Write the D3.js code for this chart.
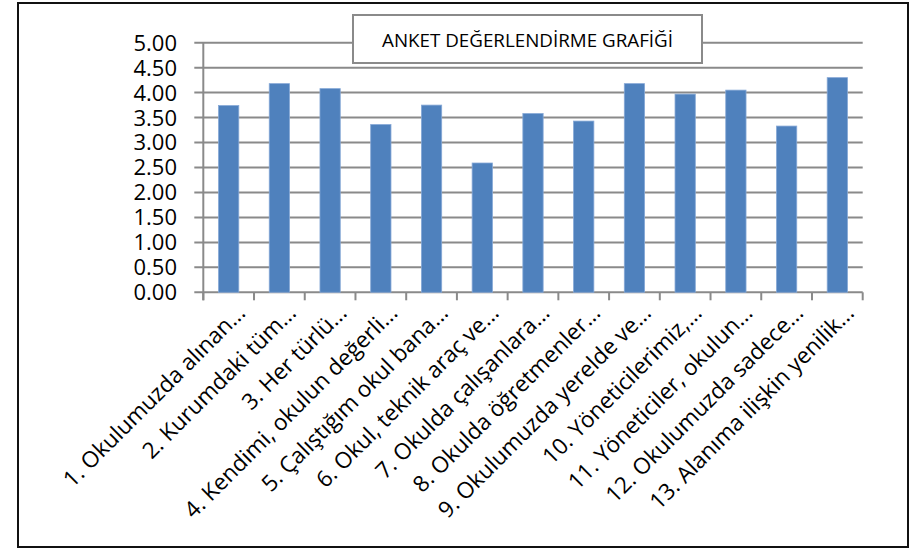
<!DOCTYPE html>
<html><head><meta charset="utf-8">
<script src="https://cdn.jsdelivr.net/npm/d3@7"></script>
<style>body{margin:0;background:#fff}svg{display:block}</style>
</head><body><svg id="c" width="910" height="550"></svg>
<script>
const categories = [
  "1. Okulumuzda alınan...",
  "2. Kurumdaki tüm...",
  "3. Her türlü...",
  "4. Kendimi, okulun değerli...",
  "5. Çalıştığım okul bana...",
  "6. Okul, teknik araç ve...",
  "7. Okulda çalışanlara...",
  "8. Okulda öğretmenler...",
  "9. Okulumuzda yerelde ve...",
  "10. Yöneticilerimiz,...",
  "11. Yöneticiler, okulun...",
  "12. Okulumuzda sadece...",
  "13. Alanıma ilişkin yenilik..."
];
const values = [3.74, 4.18, 4.08, 3.36, 3.75, 2.59, 3.58, 3.43, 4.18, 3.97, 4.05, 3.33, 4.30];
const yTicks = [0, 0.5, 1, 1.5, 2, 2.5, 3, 3.5, 4, 4.5, 5];
const title = "ANKET DEĞERLENDİRME GRAFİĞİ";

const svg = d3.select("#c");
const L = 203.3, R = 862.7, T = 42.7, B = 292.3;
const x = d3.scaleBand().domain(categories).range([L, R]).padding(0);
const y = d3.scaleLinear().domain([0, 5]).range([B, T]);
const grid = "#8a8a8a";
const font = "'Open Sans', sans-serif";

// outer border
svg.append("rect").attr("x", 18).attr("y", 3).attr("width", 890).attr("height", 544)
  .attr("fill", "#fff").attr("stroke", "#111").attr("stroke-width", 2);

// gridlines
svg.append("g").selectAll("line").data(yTicks).join("line")
  .attr("x1", L - 9).attr("x2", R).attr("y1", d => y(d)).attr("y2", d => y(d))
  .attr("stroke", grid).attr("stroke-width", 2);

// y axis line
svg.append("line").attr("x1", L).attr("x2", L).attr("y1", T).attr("y2", B + 8)
  .attr("stroke", grid).attr("stroke-width", 2);

// x ticks at band boundaries
const bounds = categories.map(c => x(c)).concat([R]);
svg.append("g").selectAll("line").data(bounds).join("line")
  .attr("x1", d => d).attr("x2", d => d).attr("y1", B).attr("y2", B + 8)
  .attr("stroke", grid).attr("stroke-width", 2);

// bars
const bw = x.bandwidth() * 0.4;
svg.append("g").selectAll("rect").data(values).join("rect")
  .attr("x", (d, i) => x(categories[i]) + x.bandwidth() / 2 - bw / 2)
  .attr("width", bw)
  .attr("y", d => y(d))
  .attr("height", d => B - y(d))
  .attr("fill", "#4f81bd")
  .attr("stroke", "#86a8d6").attr("stroke-width", 0.8);

// y labels
svg.append("g").selectAll("text").data(yTicks).join("text")
  .attr("x", 177).attr("y", d => y(d)).attr("dy", "0.36em")
  .attr("text-anchor", "end")
  .attr("font-family", font).attr("font-size", 22).attr("fill", "#000")
  .text(d => d.toFixed(2));

// x labels
svg.append("g").selectAll("text").data(categories).join("text")
  .attr("transform", c => `translate(${x(c) + x.bandwidth() / 2 + 18},${B + 22}) rotate(-45)`)
  .attr("text-anchor", "end")
  .attr("font-family", font).attr("font-size", 22.5).attr("fill", "#000")
  .text(c => c);

// title box
svg.append("rect").attr("x", 353).attr("y", 15).attr("width", 349).attr("height", 48)
  .attr("fill", "#fff").attr("stroke", grid).attr("stroke-width", 2);
svg.append("text").attr("x", 527.5).attr("y", 40).attr("dy", "0.35em")
  .attr("text-anchor", "middle").attr("font-family", font).attr("font-size", 18.8)
  .attr("fill", "#000").text(title);
</script>
</body></html>
